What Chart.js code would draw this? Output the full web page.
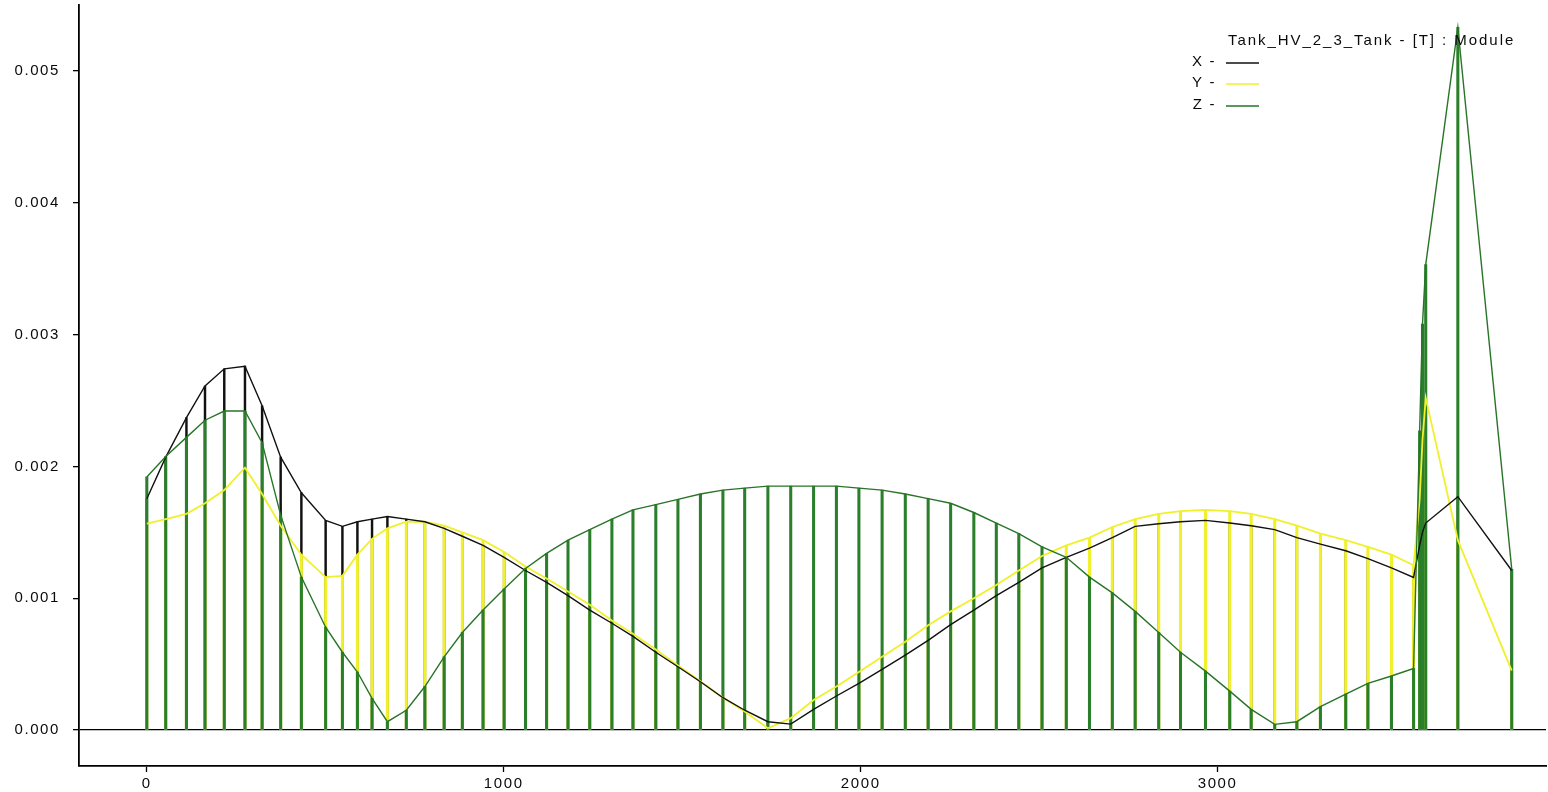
<!DOCTYPE html>
<html>
<head>
<meta charset="utf-8">
<script src="https://cdn.jsdelivr.net/npm/chart.js@4.4.1/dist/chart.umd.min.js"></script>
<style>
  html, body { margin: 0; padding: 0; background: #ffffff; overflow: hidden; }
  #wrap { position: relative; width: 1548px; height: 792px; }
</style>
</head>
<body>
<div id="wrap"><canvas id="c" width="1548" height="792"></canvas></div>
<script>
// Node positions along the tank (abscissa)
const positions = [0, 53, 111, 163, 217, 275, 323, 375, 433, 501, 548, 590, 631, 674, 727, 779, 833, 884, 942, 1001,
  1061, 1120, 1180, 1241, 1303, 1362, 1426, 1488, 1551, 1614, 1675, 1740, 1804, 1868, 1932, 1995, 2060, 2125, 2189, 2252,
  2317, 2380, 2443, 2508, 2576, 2641, 2705, 2769, 2835, 2896, 2966, 3034, 3094, 3160, 3222, 3288, 3359, 3421, 3487, 3549,
  3566, 3574, 3583, 3673, 3824];

// Module of the X component
const seriesX = [0.001755, 0.00207, 0.00237, 0.00261, 0.00274, 0.00276, 0.00246, 0.00207, 0.0018, 0.00159,
  0.001545, 0.00158, 0.0016, 0.00162, 0.0016, 0.00158, 0.00153, 0.00147, 0.0014, 0.00131,
  0.00121, 0.00112, 0.00102, 0.00091, 0.00081, 0.00071, 0.00059, 0.00048, 0.000366, 0.000245,
  0.00015, 0.000063, 0.000045, 0.000157, 0.000258, 0.000354, 0.00046, 0.000568, 0.00068, 0.0008,
  0.00091, 0.00102, 0.00112, 0.00123, 0.00131, 0.00138, 0.00146, 0.001545, 0.001565, 0.00158,
  0.00159, 0.00157, 0.00155, 0.00152, 0.00146, 0.00141, 0.00136, 0.0013, 0.00123, 0.001157,
  0.0014, 0.0015, 0.00157, 0.00177, 0.00121];

// Module of the Y component
const seriesY = [0.001565, 0.0016, 0.00164, 0.00172, 0.00182, 0.00199, 0.00179, 0.00155, 0.00133, 0.00116,
  0.00117, 0.00133, 0.00145, 0.00153, 0.00158, 0.00158, 0.00155, 0.0015, 0.00144, 0.00135,
  0.00124, 0.00115, 0.00105, 0.00095, 0.00083, 0.00073, 0.00061, 0.00049, 0.00037, 0.000245,
  0.00014, 0.000013, 0.00009, 0.000227, 0.00033, 0.00044, 0.000555, 0.00067, 0.000795, 0.0009,
  0.001, 0.0011, 0.00121, 0.00132, 0.0014, 0.00146, 0.00154, 0.0016, 0.00164, 0.00166,
  0.00167, 0.00166, 0.00164, 0.0016, 0.00155, 0.00149, 0.00144, 0.00139, 0.00133, 0.00125,
  0.00175, 0.0022, 0.00252, 0.00144, 0.00045];

// Module of the Z component
const seriesZ = [0.00192, 0.002075, 0.00222, 0.00235, 0.00242, 0.00242, 0.00218, 0.00163, 0.00116, 0.00078,
  0.00059, 0.00044, 0.00024, 0.000063, 0.00015, 0.00033, 0.000555, 0.00074, 0.00091, 0.00107,
  0.001225, 0.00134, 0.00144, 0.00152, 0.0016, 0.00167, 0.00171, 0.00175, 0.00179, 0.00182,
  0.001835, 0.00185, 0.00185, 0.00185, 0.00185, 0.001835, 0.00182, 0.00179, 0.001755, 0.00172,
  0.00165, 0.00157, 0.00149, 0.00139, 0.00131, 0.00116, 0.00104, 0.0009, 0.00074, 0.00059,
  0.000447, 0.000295, 0.000157, 0.000043, 0.000063, 0.000177, 0.000273, 0.000354, 0.00041, 0.000467,
  0.00227, 0.00308, 0.00353, 0.00533, 0.00122];

const xTicks = [0, 1000, 2000, 3000];
const yTicks = [0, 0.001, 0.002, 0.003, 0.004, 0.005];

const legendTitle = 'Tank_HV_2_3_Tank - [T] : Module';
const seriesNames = ['X', 'Y', 'Z'];

const COLORS = { X: '#111111', Y: '#f0f02c', Z: '#2a7f2a', Zline: '#287428' };
const FONT = 'Liberation Sans, Arial, sans-serif';
const SPACING = '1.6px';

const toPoints = vals => positions.map((p, i) => ({ x: p, y: vals[i] }));

// Stems from zero to every node value, one set per component
function stems(label, vals, color, width, order) {
  return { type: 'bar', label, data: toPoints(vals), backgroundColor: color, borderWidth: 0,
           barThickness: width, grouped: false, order };
}
function curve(label, vals, color, width, order) {
  return { type: 'line', label, data: toPoints(vals), borderColor: color, backgroundColor: color,
           borderWidth: width, pointRadius: 0, tension: 0, fill: false, order };
}

// Keep the plot area exactly where the axes are fitted, without label overhang
function noOverhang(s) {
  s.paddingTop = 0; s.paddingBottom = 0; s.paddingLeft = 0; s.paddingRight = 0;
}

// Legend block: title line, then "X -" rows followed by a line sample
const legendBlock = {
  id: 'legendBlock',
  beforeDraw(chart) { chart.ctx.letterSpacing = SPACING; },
  afterDraw(chart) {
    const ctx = chart.ctx;
    ctx.save();
    ctx.font = '15px ' + FONT;
    ctx.fillStyle = '#0a0a0a';
    ctx.textBaseline = 'middle';
    ctx.textAlign = 'left';
    ctx.letterSpacing = '1.95px';
    ctx.fillText(legendTitle, 1228, 41);
    ctx.letterSpacing = SPACING;
    const rows = [62, 83, 105];
    const lineSets = chart.data.datasets.filter(d => d.type === 'line');
    seriesNames.forEach((name, i) => {
      ctx.textAlign = 'right';
      ctx.fillStyle = '#0a0a0a';
      ctx.fillText(name + ' -', 1216, rows[i]);
      const ds = lineSets.find(d => d.label === name);
      ctx.strokeStyle = ds ? ds.borderColor : '#000';
      ctx.lineWidth = 1.6;
      ctx.beginPath();
      ctx.moveTo(1226, rows[i] + 1);
      ctx.lineTo(1259, rows[i] + 1);
      ctx.stroke();
    });
    ctx.restore();
  }
};

new Chart(document.getElementById('c'), {
  data: {
    datasets: [
      stems('X', seriesX, COLORS.X, 1.8, 6),
      stems('Y', seriesY, COLORS.Y, 2.4, 5),
      stems('Z', seriesZ, COLORS.Z, 2.4, 4),
      curve('Y', seriesY, COLORS.Y, 1.8, 3),
      curve('X', seriesX, COLORS.X, 1.4, 2),
      curve('Z', seriesZ, COLORS.Zline, 1.4, 1)
    ]
  },
  options: {
    responsive: false,
    animation: false,
    devicePixelRatio: 1,
    layout: { padding: { top: 5, right: 2, left: 0, bottom: 0 } },
    plugins: { legend: { display: false }, tooltip: { enabled: false }, title: { display: false } },
    scales: {
      x: {
        type: 'linear',
        min: -190,
        max: 3920,
        offset: false,
        afterBuildTicks: s => { s.ticks = xTicks.map(v => ({ value: v })); },
        afterFit: s => { s.height = 26; noOverhang(s); },
        grid: { offset: false, drawOnChartArea: false, drawTicks: true, tickLength: 6, tickColor: '#000', tickWidth: 1.3 },
        border: { display: true, color: '#000', width: 1.8 },
        ticks: { color: '#0a0a0a', font: { family: FONT, size: 15 }, padding: 3, maxRotation: 0, autoSkip: false,
                 callback: v => String(v) }
      },
      y: {
        type: 'linear',
        min: -0.000273,
        max: 0.0055,
        afterBuildTicks: s => { s.ticks = yTicks.map(v => ({ value: v })); },
        afterFit: s => { s.width = 79; noOverhang(s); },
        grid: {
          drawOnChartArea: true,
          color: c => (c.tick && c.tick.value === 0) ? '#000' : 'rgba(0,0,0,0)',
          lineWidth: 1.3,
          tickColor: '#000',
          tickLength: 6,
          tickWidth: 1.3
        },
        border: { display: true, color: '#000', width: 1.8 },
        ticks: { color: '#0a0a0a', font: { family: FONT, size: 15 }, padding: 13,
                 callback: v => Number(v).toFixed(3) }
      }
    }
  },
  plugins: [legendBlock]
});
</script>
</body>
</html>
